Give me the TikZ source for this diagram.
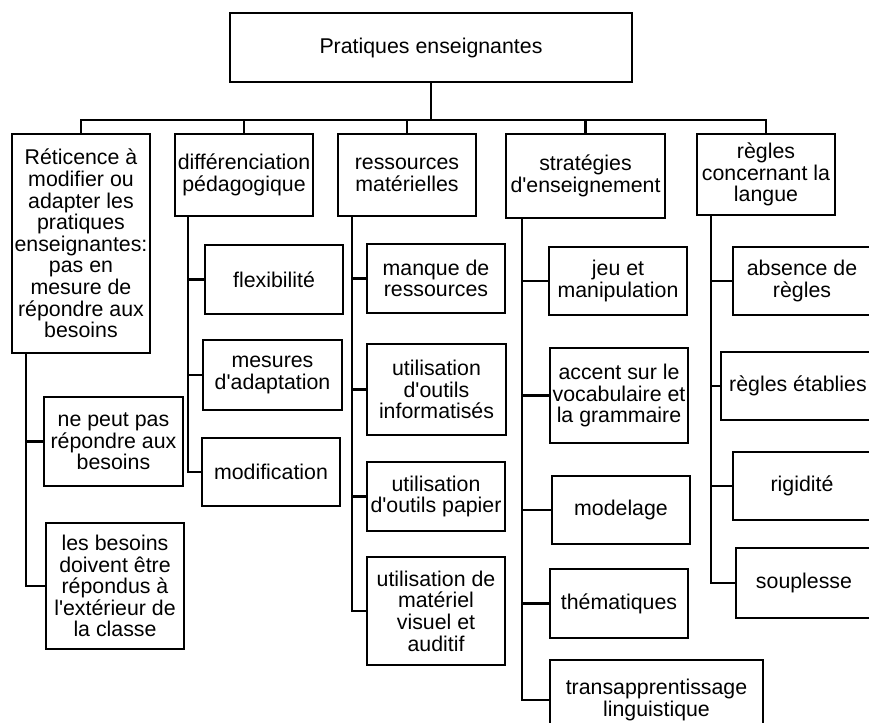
\documentclass[tikz,border=0pt]{standalone}
\usepackage{fontspec}
\setmainfont{Liberation Sans}[Ligatures=TeXOff]
\begin{document}
\begin{tikzpicture}[x=0.75pt,y=-0.75pt,
 bx/.style={draw, line width=2pt, inner sep=1pt, align=center, font=\fontsize{16}{16.2}\selectfont},
 ln/.style={line width=2pt}]
\useasboundingbox (0,0) rectangle (869,723);
\clip (0,0) rectangle (869,723);
\newcommand\mybox[6]{\node[bx, minimum width={(#4-#2)*0.75pt}, minimum height={(#5-#3)*0.75pt}] (#1) at ({(#2+#4)/2},{(#3+#5)/2}) {#6};}
% root and level 1
\mybox{root}{230}{13}{632}{82}{Pratiques enseignantes}
\mybox{ret}{12}{134}{150}{353}{Réticence à\\modifier ou\\adapter les\\pratiques\\enseignantes:\\pas en\\mesure de\\répondre aux\\besoins}
\mybox{dif}{175}{134}{313}{216}{différenciation\\pédagogique}
\mybox{res}{338}{134}{476}{216}{ressources\\matérielles}
\mybox{str}{506}{134}{665}{218}{stratégies\\d'enseignement}
\mybox{reg}{697}{134}{835}{215}{règles\\concernant la\\langue}
% children
\mybox{r1}{44}{397}{183}{486}{ne peut pas\\répondre aux\\besoins}
\mybox{r2}{46}{523}{184}{649}{les besoins\\doivent être\\répondus à\\l'extérieur de\\la classe}
\mybox{d1}{205}{245}{343}{314}{flexibilité}
\mybox{d2}{203}{340}{342}{410}{mesures\\d'adaptation}
\mybox{d3}{202}{438}{340}{506}{modification}
\mybox{s1}{367}{244}{505}{313}{manque de\\ressources}
\mybox{s2}{367}{344}{506}{435}{utilisation\\d'outils\\informatisés}
\mybox{s3}{367}{462}{505}{531}{utilisation\\d'outils papier}
\mybox{s4}{367}{557}{505}{665}{utilisation de\\matériel\\visuel et\\auditif}
\mybox{t1}{549}{247}{687}{315}{jeu et\\manipulation}
\mybox{t2}{550}{348}{688}{443}{accent sur le\\vocabulaire et\\la grammaire}
\mybox{t3}{552}{476}{690}{544}{modelage}
\mybox{t4}{550}{569}{688}{638}{thématiques}
\mybox{t5}{550}{660}{763}{740}{transapprentissage\\linguistique}
\mybox{g1}{733}{247}{871}{315}{absence de\\règles}
\mybox{g2}{721}{352}{875}{420}{règles établies}
\mybox{g3}{733}{452}{871}{520}{rigidité}
\mybox{g4}{736}{548}{872}{618}{souplesse}
% helper coordinates
\coordinate (busy) at (0,120);
\coordinate (tr1) at (26,0);
\coordinate (tr2) at (188,0);
\coordinate (tr3) at (352,0);
\coordinate (tr4) at (522,0);
\coordinate (tr5) at (711,0);
% bus
\foreach \n in {ret,dif,res,str,reg}
  \draw[ln] (root.south) -- (root.south |- busy) -| (\n.north);
% trunks
\foreach \n in {r1,r2} \draw[ln] (ret.south -| tr1) |- (\n.west);
\foreach \n in {d1,d2,d3} \draw[ln] (dif.south -| tr2) |- (\n.west);
\foreach \n in {s1,s2,s3,s4} \draw[ln] (res.south -| tr3) |- (\n.west);
\foreach \n in {t1,t2,t3,t4,t5} \draw[ln] (str.south -| tr4) |- (\n.west);
\foreach \n in {g1,g2,g3,g4} \draw[ln] (reg.south -| tr5) |- (\n.west);
\end{tikzpicture}
\end{document}
